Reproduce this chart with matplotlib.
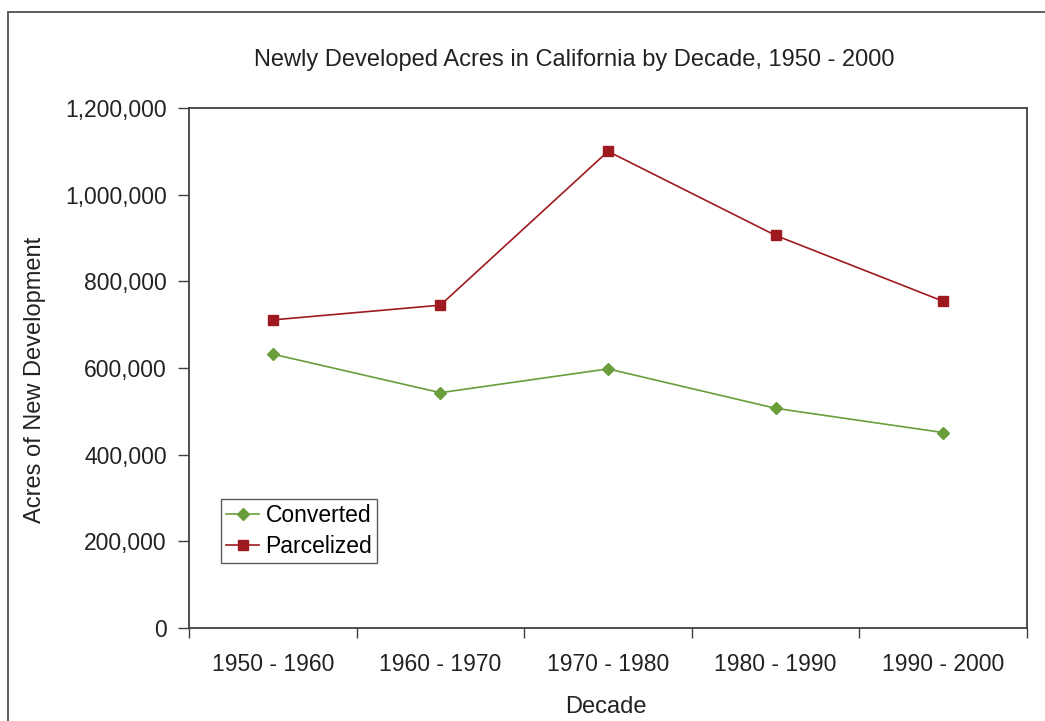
import matplotlib
matplotlib.use("Agg")
import matplotlib.pyplot as plt
from matplotlib.ticker import FuncFormatter
from matplotlib.patches import Rectangle

decades = ["1950 - 1960", "1960 - 1970", "1970 - 1980", "1980 - 1990", "1990 - 2000"]
converted = [632000, 543000, 598000, 507000, 451000]
parcelized = [711000, 745000, 1100000, 906000, 754000]
y_ticks = [0, 200000, 400000, 600000, 800000, 1000000, 1200000]

plt.rcParams['font.family'] = ['Liberation Sans', 'DejaVu Sans']
edge = '#404040'
txt = '#222222'

fig = plt.figure(figsize=(10.45, 7.21), dpi=100)
ax = fig.add_axes([189 / 1045, 1 - 628 / 721, 838 / 1045, 520 / 721])

# outer frame of the chart area (cropped at right and bottom)
fig.patches.append(Rectangle((8 / 1045, -0.1), 1.2, 1 - 12 / 721 + 0.1,
                             transform=fig.transFigure, fill=False,
                             edgecolor='#505050', linewidth=1.3))

x = [i + 0.5 for i in range(len(decades))]
ax.plot(x, converted, color='#6a9e3a', linewidth=1.2, marker='D',
        markersize=6, label='Converted')
ax.plot(x, parcelized, color='#9e1a20', linewidth=1.2, marker='s',
        markersize=7, label='Parcelized')

ax.set_xlim(0, len(decades))
ax.set_ylim(0, 1200000)
ax.set_yticks(y_ticks)
ax.yaxis.set_major_formatter(FuncFormatter(lambda v, p: f"{int(v):,}"))
ax.set_xticks(range(len(decades) + 1))
ax.set_xticklabels([])
ax.set_xticks(x, minor=True)
ax.set_xticklabels(decades, minor=True)
ax.tick_params(axis='x', which='minor', length=0, pad=18, labelsize=16.5, colors=txt)
ax.tick_params(axis='x', which='major', length=7, width=1, color=edge)
ax.tick_params(axis='y', length=8, width=1, color=edge, pad=8, labelsize=16.5,
               labelcolor=txt)

for s in ax.spines.values():
    s.set_color(edge)
    s.set_linewidth(1.3)

fig.text(574 / 1045, 1 - 60 / 721,
         "Newly Developed Acres in California by Decade, 1950 - 2000",
         fontsize=17, color=txt, ha='center', va='center')
fig.text(606 / 1045, 1 - 707 / 721, "Decade", fontsize=17, color=txt,
         ha='center', va='center')
fig.text(35 / 1045, 1 - 380 / 721, "Acres of New Development", fontsize=17,
         color=txt, ha='center', va='center', rotation=90)

leg = ax.legend(loc='lower left', bbox_to_anchor=(0.038, 0.125), fontsize=16.5,
                frameon=True, fancybox=False, borderpad=0.22, handlelength=1.45,
                handletextpad=0.28, labelspacing=0.36, borderaxespad=0)
leg.get_frame().set_edgecolor('#333333')
leg.get_frame().set_linewidth(1.0)

fig.savefig("out.png", dpi=100)
